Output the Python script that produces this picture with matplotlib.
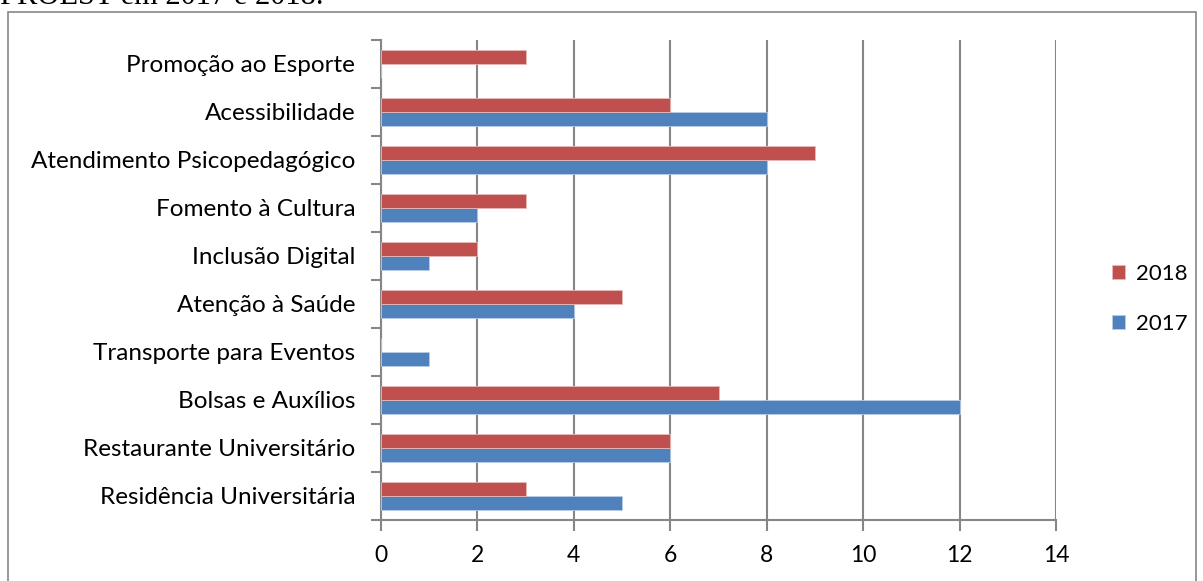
import matplotlib
matplotlib.use("Agg")
import matplotlib.pyplot as plt
from matplotlib.patches import Rectangle
import numpy as np

categories = ["Residência Universitária", "Restaurante Universitário", "Bolsas e Auxílios",
              "Transporte para Eventos", "Atenção à Saúde", "Inclusão Digital",
              "Fomento à Cultura", "Atendimento Psicopedagógico", "Acessibilidade",
              "Promoção ao Esporte"]
values_2017 = [5, 6, 12, 1, 4, 1, 2, 8, 8, 0]
values_2018 = [3, 6, 7, 0, 5, 2, 3, 9, 6, 3]
xticks = [0, 2, 4, 6, 8, 10, 12, 14]

W, H = 1203, 581
fig = plt.figure(figsize=(W / 100, H / 100), dpi=100)
plt.rcParams['font.family'] = ['Lato', 'DejaVu Sans']

# partially visible caption above the chart frame
fig.text(0 / W, 1 - 4 / H, "PROEST em 2017 e 2018.", family="Liberation Serif",
         fontsize=22, va="baseline", ha="left")

# chart frame
fig.patches.append(Rectangle((8 / W, -0.05), (1196 - 8) / W, 1.05 - 12 / H,
                             transform=fig.transFigure, fill=False,
                             edgecolor="#868686", lw=1.2))

ax = fig.add_axes([381 / W, 1 - 520 / H, (1056 - 381) / W, (520 - 40) / H])

y = np.arange(len(categories))
h = 0.29
c17 = "#4F81BD"
c18 = "#C0504D"
ax.barh(y - h / 2, values_2017, height=h, color=c17, edgecolor="#B9CDE5", lw=0.6, label="2017", zorder=3)
ax.barh(y + h / 2, values_2018, height=h, color=c18, edgecolor="#E6B9B8", lw=0.6, label="2018", zorder=3)

ax.set_xlim(0, 14)
ax.set_ylim(-0.5, len(categories) - 0.5)
ax.set_xticks(xticks)
ax.set_xticklabels([str(v) for v in xticks], fontsize=16.5)
ax.set_yticks(y)
ax.set_yticklabels(categories, fontsize=17.5)
ax.set_yticks(np.arange(-0.5, len(categories)), minor=True)
ax.tick_params(axis="y", which="major", length=0, pad=18.5)
ax.tick_params(axis="y", which="minor", length=7, color="#868686", width=1.5)
ax.tick_params(axis="x", length=8, color="#868686", width=1.5, pad=10)

ax.grid(axis="x", color="#868686", lw=1.5, zorder=0)
for s in ["top", "right"]:
    ax.spines[s].set_visible(False)
for s in ["left", "bottom"]:
    ax.spines[s].set_color("#868686")
    ax.spines[s].set_linewidth(1.5)

handles, labels = ax.get_legend_handles_labels()
fig.legend(handles[::-1], labels[::-1], loc="center left",
           bbox_to_anchor=(1092 / W, 1 - 299 / H), frameon=False, fontsize=16,
           handlelength=0.6, handleheight=0.6, labelspacing=1.35, handletextpad=0.5)

fig.savefig("out.png", dpi=100)
